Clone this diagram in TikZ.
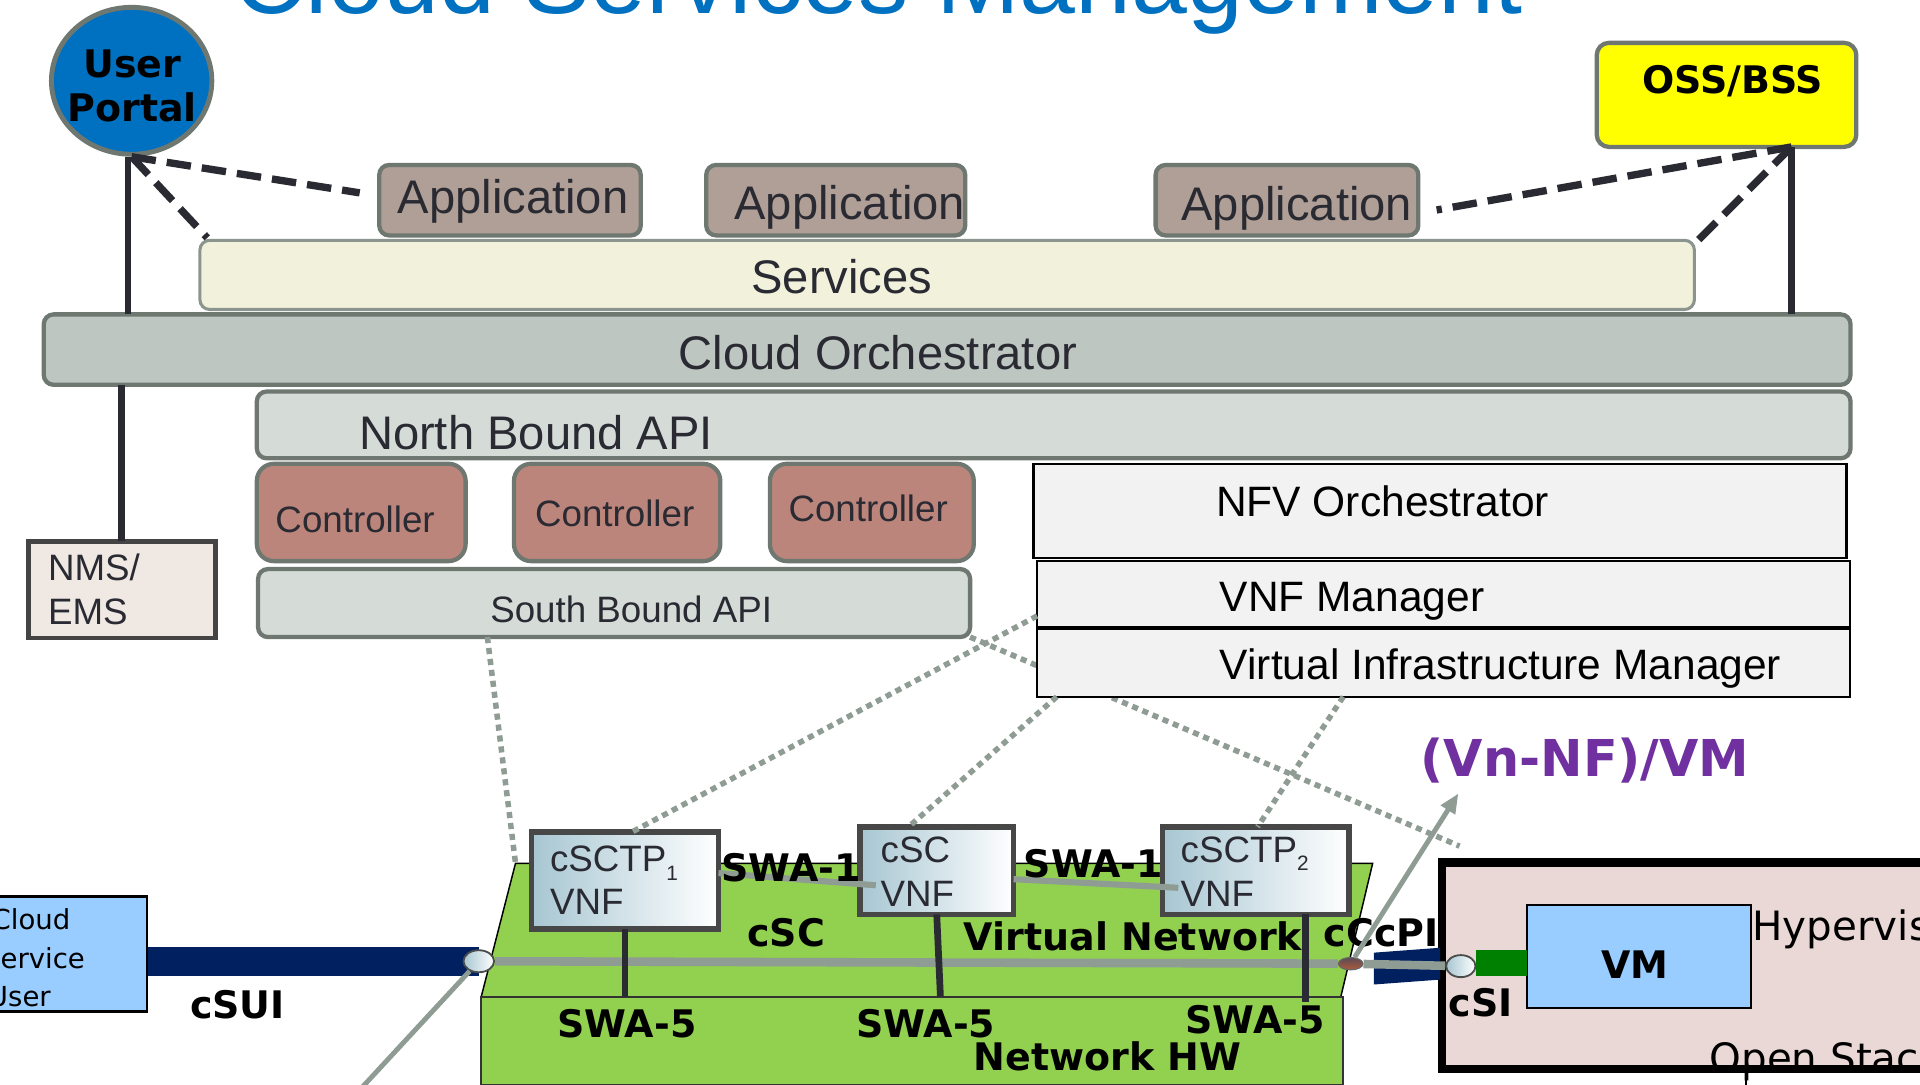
\documentclass[tikz,border=0pt]{standalone}
\usepackage{fontspec}
\setmainfont{Liberation Sans}
\newfontfamily\lblfont{DejaVu Sans}
\usetikzlibrary{shapes.geometric,arrows.meta}
\definecolor{titleblue}{HTML}{0070C0}
\definecolor{edgegray}{HTML}{6E7871}
\definecolor{appfill}{HTML}{B09F96}
\definecolor{svcfill}{HTML}{F2F1DC}
\definecolor{svcedge}{HTML}{8B958E}
\definecolor{orchfill}{HTML}{BEC6C1}
\definecolor{apifill}{HTML}{D5DCD8}
\definecolor{ctrlfill}{HTML}{BC857C}
\definecolor{nmsfill}{HTML}{F0E9E3}
\definecolor{nmsedge}{HTML}{444444}
\definecolor{wirecol}{HTML}{2A2A33}
\definecolor{txtdark}{HTML}{2A2A33}
\definecolor{nfvfill}{HTML}{F2F2F2}
\definecolor{vnetgreen}{HTML}{92D050}
\definecolor{vnfblue}{HTML}{A7C6D2}
\definecolor{vnfedge}{HTML}{474747}
\definecolor{linkgray}{HTML}{8E9C94}
\definecolor{navybar}{HTML}{002060}
\definecolor{skyblue}{HTML}{99CCFF}
\definecolor{hypfill}{HTML}{E9D8D5}
\definecolor{vmgreen}{HTML}{008000}
\definecolor{vnpurple}{HTML}{7030A0}
\definecolor{ossyellow}{HTML}{FFFF00}
\definecolor{portdark}{HTML}{5B4A55}
\definecolor{portbrown}{HTML}{B05B3B}

\begin{document}
\begin{tikzpicture}[
    x=1pt, y=-1pt,
    layer/.style={
        draw=edgegray,
        line width=3.5pt,
        rounded corners=8pt,
        inner sep=0pt,
        outer sep=0pt,
    },
    app/.style={layer, fill=appfill, minimum height=57.5pt},
    ctrl/.style={layer, fill=ctrlfill, rounded corners=14pt, minimum height=79.5pt},
    api/.style={layer, fill=apifill},
    nfv/.style={draw=black, line width=1.8pt, fill=nfvfill, minimum width=664pt, inner sep=0pt, outer sep=0pt},
    vnf/.style={draw=vnfedge, line width=4.5pt, left color=vnfblue, right color=white, inner sep=0pt, outer sep=0pt},
    port/.style={ellipse, draw=black!70, line width=1.5pt, left color=vnfblue, right color=white, inner sep=0pt},
    txt/.style={inner sep=0pt, text=txtdark, font=\fontsize{38.5}{44}\selectfont},
    smalltxt/.style={inner sep=0pt, text=txtdark, font=\fontsize{30}{35}\selectfont},
    nfvtxt/.style={inner sep=0pt, font=\fontsize{34.7}{40}\selectfont},
    lbl/.style={inner sep=0pt, font=\lblfont\bfseries\fontsize{31}{36}\selectfont},
    plaintxt/.style={inner sep=0pt, font=\lblfont\fontsize{33}{38}\selectfont},
    cutxt/.style={inner sep=0pt, font=\lblfont\fontsize{22.5}{32}\selectfont},
    wire/.style={draw=wirecol, line width=5.5pt},
    dashline/.style={draw=wirecol, line width=6pt, dash pattern=on 20pt off 9pt},
    dotline/.style={draw=linkgray, line width=4.5pt, dash pattern=on 5pt off 4pt},
    vlink/.style={draw=linkgray, line width=7pt},
    swalink/.style={draw=linkgray, line width=5pt},
    thinlink/.style={draw=linkgray, line width=4pt},
]
\useasboundingbox (0,0) rectangle (1568,886);
\clip (0,0) rectangle (1568,886);

\node[anchor=base, inner sep=0pt, text=titleblue, font=\fontsize{82}{90}\selectfont] (title) at (717,11) {Cloud Services Management};

% management stack
\node[ellipse, draw=edgegray, line width=4pt, fill=titleblue, minimum width=131pt, minimum height=120pt, inner sep=0pt] (portal) at (107.5,66) {};
\node[lbl, anchor=base] (portal1) at (108,63) {User};
\node[lbl, anchor=base] (portal2) at (108,99) {Portal};

\node[layer, fill=ossyellow, rounded corners=10pt, minimum width=212pt, minimum height=85pt] (oss) at (1410,77.5) {};
\node[lbl, anchor=base] (osstxt) at (1415,76) {OSS/BSS};

\node[layer, draw=svcedge, line width=2.5pt, fill=svcfill, minimum width=1220.5pt, minimum height=56.5pt] (services) at (773.5,224.5) {};
\node[txt, anchor=base] (svctxt) at (687.5,240) {Services};

\node[app, minimum width=213.5pt] (app1) at (416.5,163.5) {};
\node[app, minimum width=211.5pt] (app2) at (682.5,163.5) {};
\node[app, minimum width=214.5pt] (app3) at (1051,163.5) {};
\node[txt, anchor=base] (app1txt) at (419,174) {Application};
\node[txt, anchor=base] (app2txt) at (694,179) {Application};
\node[txt, anchor=base] (app3txt) at (1059,180) {Application};

\node[layer, fill=orchfill, minimum width=1475.5pt, minimum height=57.5pt] (orch) at (773.5,285.5) {};
\node[txt, anchor=base] (orchtxt) at (717,302) {Cloud Orchestrator};

\node[api, minimum width=1301.5pt, minimum height=54.5pt] (nbapi) at (860.5,347) {};
\node[txt, anchor=base west] (nbtxt) at (293,367) {North Bound API};

\node[ctrl, minimum width=170.5pt] (ctrl1) at (295,418.5) {};
\node[ctrl, minimum width=168.5pt] (ctrl2) at (504,418.5) {};
\node[ctrl, minimum width=166.5pt] (ctrl3) at (712,418.5) {};
\node[smalltxt, anchor=base] (ctrl1txt) at (290,435) {Controller};
\node[smalltxt, anchor=base] (ctrl2txt) at (502,430) {Controller};
\node[smalltxt, anchor=base] (ctrl3txt) at (709,426) {Controller};

\node[api, minimum width=581.5pt, minimum height=55.5pt] (sbapi) at (501.5,492.5) {};
\node[smalltxt, anchor=base] (sbtxt) at (515.5,508) {South Bound API};

\node[draw=nmsedge, line width=4pt, fill=nmsfill, minimum width=153pt, minimum height=79pt, inner sep=0pt, outer sep=0pt] (nms) at (99.5,481.5) {};
\node[smalltxt, anchor=base west] (nms1) at (39,474) {NMS/};
\node[smalltxt, anchor=base west] (nms2) at (39,510) {EMS};

\coordinate (ossfoot) at ([xshift=53pt]oss.south);
\draw[wire] ([xshift=-3pt]portal.south) -- ([xshift=-3pt]portal.south |- orch.north);
\draw[wire] (nms.north) -- (nms.north |- orch.south);
\draw[wire] (ossfoot) -- (ossfoot |- orch.north);
\draw[dashline] (portal.south) -- ([xshift=-16pt,yshift=6pt]app1.west);
\draw[dashline] (portal.south) -- ([xshift=6pt,yshift=2pt]services.north west);
\draw[dashline] (ossfoot) -- ([xshift=15pt,yshift=-8pt]app3.east);
\draw[dashline] (ossfoot) -- ([yshift=-3pt]services.north east);

\coordinate (hypcorner) at (1192,691);
\draw[dotline] (sbapi.south east) -- (hypcorner);

% NFV MANO
\node[nfv, minimum height=77pt] (nfvo) at (1176,417.5) {};
\node[nfv, minimum height=54pt] (vnfm) at (1179,485) {};
\node[nfv, minimum height=55pt] (vim) at (1179,541.5) {};
\node[nfvtxt, anchor=base west] (nfvotxt) at (993,422) {NFV Orchestrator};
\node[nfvtxt, anchor=base west] (vnfmtxt) at (996,499) {VNF Manager};
\node[nfvtxt, anchor=base west] (vimtxt) at (996,555) {Virtual Infrastructure Manager};

\node[lbl, anchor=base west, text=vnpurple, font=\lblfont\bfseries\fontsize{41.5}{48}\selectfont] (vnvm) at (1160,634) {(Vn-NF)/VM};

% virtual network and hardware
\coordinate (vn-nw) at (421,705);
\coordinate (vn-ne) at (1121,705);
\coordinate (vn-se) at (1095,814);
\coordinate (vn-sw) at (393,814);
\draw[fill=vnetgreen, draw=black, line width=1.2pt] (vn-nw) -- (vn-ne) -- (vn-se) -- (vn-sw) -- cycle;
\node[draw=black!80, line width=1.5pt, fill=vnetgreen, minimum width=704pt, minimum height=72pt, anchor=north west, inner sep=0pt, outer sep=0pt] (nethw) at (393,814) {};

\node[vnf, minimum width=152.5pt, minimum height=79.5pt] (vnf1) at (510.5,719) {};
\node[vnf, minimum width=125.5pt, minimum height=71.5pt] (vnf2) at (765,711) {};
\node[vnf, minimum width=152.5pt, minimum height=71.5pt] (vnf3) at (1025.5,711) {};
\node[smalltxt, anchor=base west] (vnf1a) at (449,712) {cSCTP\raisebox{-7pt}{\fontsize{17}{17}\selectfont 1}};
\node[smalltxt, anchor=base west] (vnf1b) at (449,747) {VNF};
\node[smalltxt, anchor=base west] (vnf2a) at (719,704) {cSC};
\node[smalltxt, anchor=base west] (vnf2b) at (719,740) {VNF};
\node[smalltxt, anchor=base west] (vnf3a) at (964,704) {cSCTP\raisebox{-7pt}{\fontsize{17}{17}\selectfont 2}};
\node[smalltxt, anchor=base west] (vnf3b) at (964,740) {VNF};

\draw[dotline] ([xshift=-103.5pt]sbapi.south) -- (vn-nw);
\draw[dotline] ([yshift=-18pt]vnfm.west) -- ([xshift=6pt]vnf1.north);
\draw[dotline] ([xshift=16pt]vim.south west) -- ([xshift=-23pt]vnf2.north);
\draw[dotline] ([xshift=250pt]vim.south west) -- ([xshift=1.5pt]vnf3.north);

\draw[swalink] (vnf1.east |- 0,713) -- ([xshift=13pt]vnf2.west |- 0,723);
\draw[swalink] (vnf2.east |- 0,718) -- ([xshift=13pt]vnf3.west |- 0,725);
\node[lbl, anchor=base west] (swa1l) at (589,720) {SWA-1};
\node[lbl, anchor=base west] (swa1r) at (836,717) {SWA-1};

% user side
\node[draw=black, line width=2pt, fill=skyblue, minimum width=130pt, minimum height=94pt, inner sep=0pt] (cuser) at (55,779) {};
\node[cutxt, anchor=base west] (cu1) at (-7,759) {Cloud};
\node[cutxt, anchor=base west] (cu2) at (-14,791) {Service};
\node[cutxt, anchor=base west] (cu3) at (-10,822) {User};

% compute side
\node[draw=black, line width=7pt, fill=hypfill, minimum width=450pt, minimum height=168.5pt, inner sep=0pt, outer sep=0pt] (hyp) at (1402.5,788.75) {};
\node[plaintxt, anchor=base west] (hyptxt) at (1431,768) {Hypervisor};
\node[plaintxt, anchor=base west] (ostxt) at (1396,876) {Open Stack};
\coordinate (hypfoot) at (1426,892);
\draw[black, line width=2pt] (hypfoot |- hyp.south) -- (hypfoot);
\node[draw=black, line width=2pt, fill=skyblue, minimum width=183pt, minimum height=84pt, inner sep=0pt] (vm) at (1338.5,781) {};
\node[lbl, anchor=base] (vmlbl) at (1335,799) {VM};
\node[fill=vmgreen, minimum width=42pt, minimum height=21pt, inner sep=0pt] (vmlink) at (1226,786.5) {};

\coordinate (sui) at (391,785);
\draw[navybar, line width=24pt] (cuser.east |- sui) -- (sui);
\fill[navybar] (1122,778) -- (1176,774) -- (1176,800) -- (1122,804) -- cycle;

\node[port, minimum width=25pt, minimum height=18pt] (ep1) at (sui) {};
\node[ellipse, draw=black!60, line width=1pt, top color=portdark, bottom color=portbrown, minimum width=20pt, minimum height=10pt, inner sep=0pt] (ep2) at (1103,787) {};
\node[port, minimum width=24pt, minimum height=18pt] (ep3) at (1193,789) {};
\draw[vlink] (ep1) -- (ep2);
\draw[vlink] (ep2) -- (ep3);

\draw[wire] (vnf1.south) -- (vnf1.south |- nethw.north);
\draw[wire] (vnf2.south) -- ([xshift=3pt]vnf2.south |- nethw.north);
\coordinate (s5c) at (1066,818);
\draw[wire] (vnf3.south -| s5c) -- (s5c);

\node[lbl, anchor=base west] (csclbl) at (610,773) {cSC};
\node[lbl, anchor=base west] (vnetlbl) at (787,776) {Virtual Network};
\node[lbl, anchor=base west] (ccpilbl) at (1081,773) {cCcPI};
\node[lbl, anchor=base west] (swa5a) at (455,847) {SWA-5};
\node[lbl, anchor=base west] (swa5b) at (699,847) {SWA-5};
\node[lbl, anchor=base west] (swa5c) at (968,844) {SWA-5};
\node[lbl, anchor=base west] (hwlbl) at (795,874) {Network HW};
\node[lbl, anchor=base west] (suilbl) at (155,832) {cSUI};
\node[lbl, anchor=base west] (silbl) at (1183,830) {cSI};

\coordinate (vmtip) at (1191,648);
\coordinate (swfree) at (292,892);
\draw[thinlink, -{Triangle[length=16pt,width=13pt]}] (ep2) -- (vmtip);
\draw[thinlink] (ep1) -- (swfree);

\end{tikzpicture}
\end{document}
